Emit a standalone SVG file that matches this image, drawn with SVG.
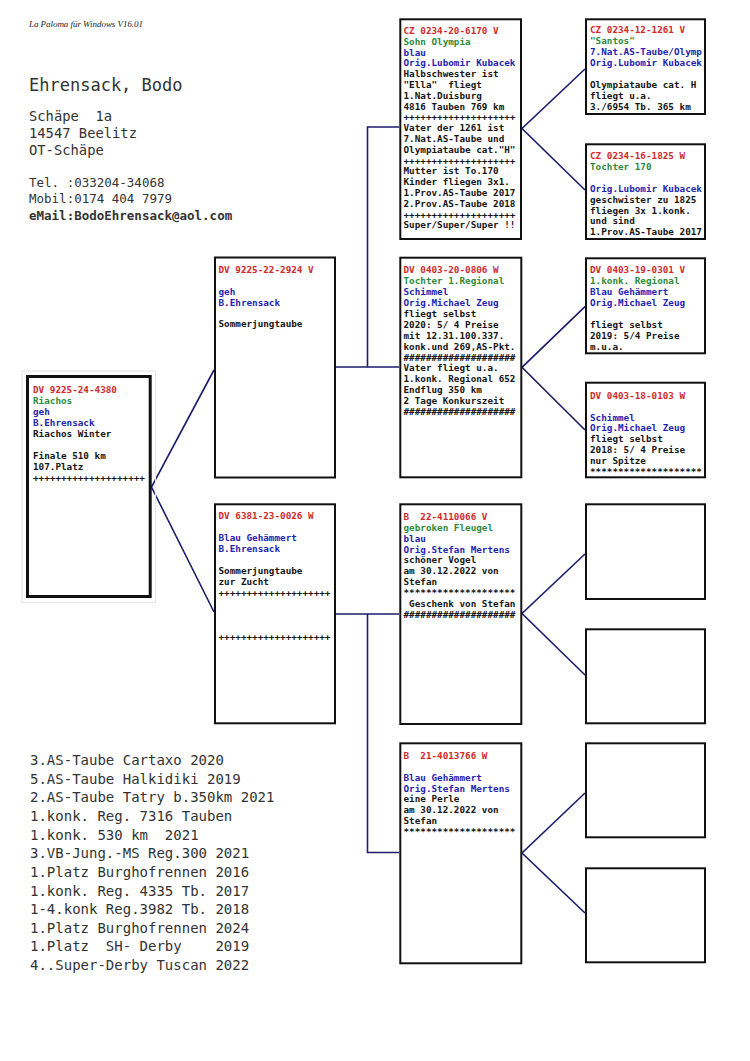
<svg xmlns="http://www.w3.org/2000/svg" width="750" height="1061" viewBox="0 0 750 1061">
<style>
text{white-space:pre}
.bg{fill:#ffffff}
.box{fill:#ffffff;stroke:#111111;stroke-width:2}
.main{fill:#ffffff;stroke:#111111;stroke-width:3}
.halo{fill:none;stroke:#e6e6e6;stroke-width:1.2}
.con{fill:none;stroke:#1c1c6a;stroke-width:1.6}
.t{font-family:"DejaVu Sans Mono","Liberation Mono",monospace;font-size:9.3px;font-weight:bold;fill:#151515}
.r{fill:#d22a2a}
.g{fill:#2f8a3a}
.b{fill:#2424b4}
.hd{font-family:"DejaVu Sans Mono","Liberation Mono",monospace;fill:#333333}
.sig{font-family:"Liberation Serif","DejaVu Serif",serif;font-style:italic;font-size:9px;fill:#222222}
.lst{font-family:"DejaVu Sans Mono","Liberation Mono",monospace;font-size:14px;fill:#333333}
</style>
<rect class="bg" x="0" y="0" width="750" height="1061"/>

<g id="header">
<text class="sig" x="29" y="27" textLength="114">La Paloma für Windows V16.01</text>
<text class="hd" x="29" y="90.5" font-size="17">Ehrensack, Bodo</text>
<text class="hd" x="29" y="120.8" font-size="13.8" xml:space="preserve">Schäpe  1a</text>
<text class="hd" x="29" y="137.7" font-size="13.8">14547 Beelitz</text>
<text class="hd" x="29" y="154.8" font-size="13.8">OT-Schäpe</text>
<text class="hd" x="29" y="186.7" font-size="12.5">Tel. :033204-34068</text>
<text class="hd" x="29" y="203.3" font-size="12.5">Mobil:0174 404 7979</text>
<text class="hd" x="29" y="219.5" font-size="12.5" font-weight="bold" fill="#111">eMail:BodoEhrensack@aol.com</text>
</g>

<g id="connectors">
<polyline class="con" points="214,370 151.5,487 214,612"/>
<path class="con" d="M335.5,367 H399 M367.5,367 V127 H399"/>
<path class="con" d="M335.5,614 H399 M367.5,614 V852.5 H399"/>
<polyline class="con" points="585,69 522,128.5 585,190"/>
<polyline class="con" points="585,306.7 522,367.3 585,430"/>
<polyline class="con" points="585,554 522,613.5 585,675"/>
<polyline class="con" points="585,793 522,853 585,913"/>
</g>

<g id="n-main">
<rect class="halo" x="22" y="371" width="133.5" height="231.5"/>
<rect class="main" x="27.5" y="376.5" width="122.7" height="220"/>
<text class="t r" x="33" y="392.5">DV 9225-24-4380</text>
<text class="t g" x="33" y="403.5">Riachos</text>
<text class="t b" x="33" y="414.5">geh</text>
<text class="t b" x="33" y="425.5">B.Ehrensack</text>
<text class="t" x="33" y="436.5">Riachos Winter</text>
<text class="t" x="33" y="458.5">Finale 510 km</text>
<text class="t" x="33" y="469.5">107.Platz</text>
<text class="t" x="33" y="480.5">++++++++++++++++++++</text>
</g>

<g id="n-father">
<rect class="box" x="215" y="257.5" width="120" height="220"/>
<text class="t r" x="218.5" y="273.3">DV 9225-22-2924 V</text>
<text class="t b" x="218.5" y="294.9">geh</text>
<text class="t b" x="218.5" y="305.7">B.Ehrensack</text>
<text class="t" x="218.5" y="327.3">Sommerjungtaube</text>
</g>

<g id="n-mother">
<rect class="box" x="215" y="504.3" width="120" height="219"/>
<text class="t r" x="218.5" y="518.5">DV 6381-23-0026 W</text>
<text class="t b" x="218.5" y="540.6">Blau Gehämmert</text>
<text class="t b" x="218.5" y="551.7">B.Ehrensack</text>
<text class="t" x="218.5" y="573.8">Sommerjungtaube</text>
<text class="t" x="218.5" y="584.8">zur Zucht</text>
<text class="t" x="218.5" y="595.9">++++++++++++++++++++</text>
<text class="t" x="218.5" y="640.1">++++++++++++++++++++</text>
</g>

<g id="n-ff">
<rect class="box" x="400.3" y="19.3" width="120.7" height="219.7"/>
<text class="t r" x="403.5" y="34">CZ 0234-20-6170 V</text>
<text class="t g" x="403.5" y="44.8">Sohn Olympia</text>
<text class="t b" x="403.5" y="55.6">blau</text>
<text class="t b" x="403.5" y="66.4">Orig.Lubomir Kubacek</text>
<text class="t" x="403.5" y="77.2">Halbschwester ist</text>
<text class="t" x="403.5" y="88" xml:space="preserve">"Ella"  fliegt</text>
<text class="t" x="403.5" y="98.8">1.Nat.Duisburg</text>
<text class="t" x="403.5" y="109.6">4816 Tauben 769 km</text>
<text class="t" x="403.5" y="120.4">++++++++++++++++++++</text>
<text class="t" x="403.5" y="131.2">Vater der 1261 ist</text>
<text class="t" x="403.5" y="142">7.Nat.AS-Taube und</text>
<text class="t" x="403.5" y="152.8">Olympiataube cat."H"</text>
<text class="t" x="403.5" y="163.6">++++++++++++++++++++</text>
<text class="t" x="403.5" y="174.4">Mutter ist To.170</text>
<text class="t" x="403.5" y="185.2">Kinder fliegen 3x1.</text>
<text class="t" x="403.5" y="196">1.Prov.AS-Taube 2017</text>
<text class="t" x="403.5" y="206.8">2.Prov.AS-Taube 2018</text>
<text class="t" x="403.5" y="217.6">++++++++++++++++++++</text>
<text class="t" x="403.5" y="228.4">Super/Super/Super !!</text>
</g>

<g id="n-fm">
<rect class="box" x="400.3" y="257.7" width="121" height="219.6"/>
<text class="t r" x="403.5" y="273.3">DV 0403-20-0806 W</text>
<text class="t g" x="403.5" y="284.2">Tochter 1.Regional</text>
<text class="t b" x="403.5" y="295.1">Schimmel</text>
<text class="t b" x="403.5" y="306">Orig.Michael Zeug</text>
<text class="t" x="403.5" y="316.9">fliegt selbst</text>
<text class="t" x="403.5" y="327.8">2020: 5/ 4 Preise</text>
<text class="t" x="403.5" y="338.7">mit 12.31.100.337.</text>
<text class="t" x="403.5" y="349.6">konk.und 269,AS-Pkt.</text>
<text class="t" x="403.5" y="360.5">####################</text>
<text class="t" x="403.5" y="371.4">Vater fliegt u.a.</text>
<text class="t" x="403.5" y="382.3">1.konk. Regional 652</text>
<text class="t" x="403.5" y="393.2">Endflug 350 km</text>
<text class="t" x="403.5" y="404.1">2 Tage Konkurszeit</text>
<text class="t" x="403.5" y="415">####################</text>
</g>

<g id="n-mf">
<rect class="box" x="400.3" y="504.3" width="121" height="219.7"/>
<text class="t r" x="403.5" y="520" xml:space="preserve">B  22-4110066 V</text>
<text class="t g" x="403.5" y="530.85">gebroken Fleugel</text>
<text class="t b" x="403.5" y="541.7">blau</text>
<text class="t b" x="403.5" y="552.55">Orig.Stefan Mertens</text>
<text class="t" x="403.5" y="563.4">schöner Vogel</text>
<text class="t" x="403.5" y="574.25">am 30.12.2022 von</text>
<text class="t" x="403.5" y="585.1">Stefan</text>
<text class="t" x="403.5" y="595.95">********************</text>
<text class="t" x="403.5" y="606.8" xml:space="preserve"> Geschenk von Stefan</text>
<text class="t" x="403.5" y="617.65">####################</text>
</g>

<g id="n-mm">
<rect class="box" x="400.3" y="743.3" width="121" height="220"/>
<text class="t r" x="403.5" y="759" xml:space="preserve">B  21-4013766 W</text>
<text class="t b" x="403.5" y="780.7">Blau Gehämmert</text>
<text class="t b" x="403.5" y="791.6">Orig.Stefan Mertens</text>
<text class="t" x="403.5" y="802.4">eine Perle</text>
<text class="t" x="403.5" y="813.3">am 30.12.2022 von</text>
<text class="t" x="403.5" y="824.2">Stefan</text>
<text class="t" x="403.5" y="835">********************</text>
</g>

<g id="n-fff">
<rect class="box" x="586" y="19.3" width="119" height="94.7"/>
<text class="t r" x="590" y="33.3">CZ 0234-12-1261 V</text>
<text class="t g" x="590" y="44.3">"Santos"</text>
<text class="t b" x="590" y="55.3">7.Nat.AS-Taube/Olymp</text>
<text class="t b" x="590" y="66.3">Orig.Lubomir Kubacek</text>
<text class="t" x="590" y="88.3">Olympiataube cat. H</text>
<text class="t" x="590" y="99.3">fliegt u.a.</text>
<text class="t" x="590" y="110.3">3./6954 Tb. 365 km</text>
</g>

<g id="n-ffm">
<rect class="box" x="586" y="144.3" width="119" height="94.7"/>
<text class="t r" x="590" y="159">CZ 0234-16-1825 W</text>
<text class="t g" x="590" y="169.9">Tochter 170</text>
<text class="t b" x="590" y="191.7">Orig.Lubomir Kubacek</text>
<text class="t" x="590" y="202.6">geschwister zu 1825</text>
<text class="t" x="590" y="213.5">fliegen 3x 1.konk.</text>
<text class="t" x="590" y="224.4">und sind</text>
<text class="t" x="590" y="235.3">1.Prov.AS-Taube 2017</text>
</g>

<g id="n-fmf">
<rect class="box" x="586" y="258.3" width="119" height="95"/>
<text class="t r" x="590" y="273.3">DV 0403-19-0301 V</text>
<text class="t g" x="590" y="284.3">1.konk. Regional</text>
<text class="t b" x="590" y="295.3">Blau Gehämmert</text>
<text class="t b" x="590" y="306.3">Orig.Michael Zeug</text>
<text class="t" x="590" y="328.3">fliegt selbst</text>
<text class="t" x="590" y="339.3">2019: 5/4 Preise</text>
<text class="t" x="590" y="350.3">m.u.a.</text>
</g>

<g id="n-fmm">
<rect class="box" x="586" y="382.7" width="119" height="94.6"/>
<text class="t r" x="590" y="399">DV 0403-18-0103 W</text>
<text class="t b" x="590" y="420.6">Schimmel</text>
<text class="t b" x="590" y="431.4">Orig.Michael Zeug</text>
<text class="t" x="590" y="442.2">fliegt selbst</text>
<text class="t" x="590" y="453">2018: 5/ 4 Preise</text>
<text class="t" x="590" y="463.8">nur Spitze</text>
<text class="t" x="590" y="474.6">********************</text>
</g>

<g id="n-mff"><rect class="box" x="586" y="504.3" width="119" height="94.7"/></g>
<g id="n-mfm"><rect class="box" x="586" y="629.3" width="119" height="94"/></g>
<g id="n-mmf"><rect class="box" x="586" y="743.3" width="119" height="94"/></g>
<g id="n-mmm"><rect class="box" x="586" y="868.3" width="119" height="94"/></g>

<g id="results">
<text class="lst" x="30" y="765">3.AS-Taube Cartaxo 2020</text>
<text class="lst" x="30" y="783.6">5.AS-Taube Halkidiki 2019</text>
<text class="lst" x="30" y="802.3">2.AS-Taube Tatry b.350km 2021</text>
<text class="lst" x="30" y="820.9">1.konk. Reg. 7316 Tauben</text>
<text class="lst" x="30" y="839.6" xml:space="preserve">1.konk. 530 km  2021</text>
<text class="lst" x="30" y="858.2">3.VB-Jung.-MS Reg.300 2021</text>
<text class="lst" x="30" y="876.8">1.Platz Burghofrennen 2016</text>
<text class="lst" x="30" y="895.5">1.konk. Reg. 4335 Tb. 2017</text>
<text class="lst" x="30" y="914.1">1-4.konk Reg.3982 Tb. 2018</text>
<text class="lst" x="30" y="932.8">1.Platz Burghofrennen 2024</text>
<text class="lst" x="30" y="951.4" xml:space="preserve">1.Platz  SH- Derby    2019</text>
<text class="lst" x="30" y="970">4..Super-Derby Tuscan 2022</text>
</g>
</svg>
